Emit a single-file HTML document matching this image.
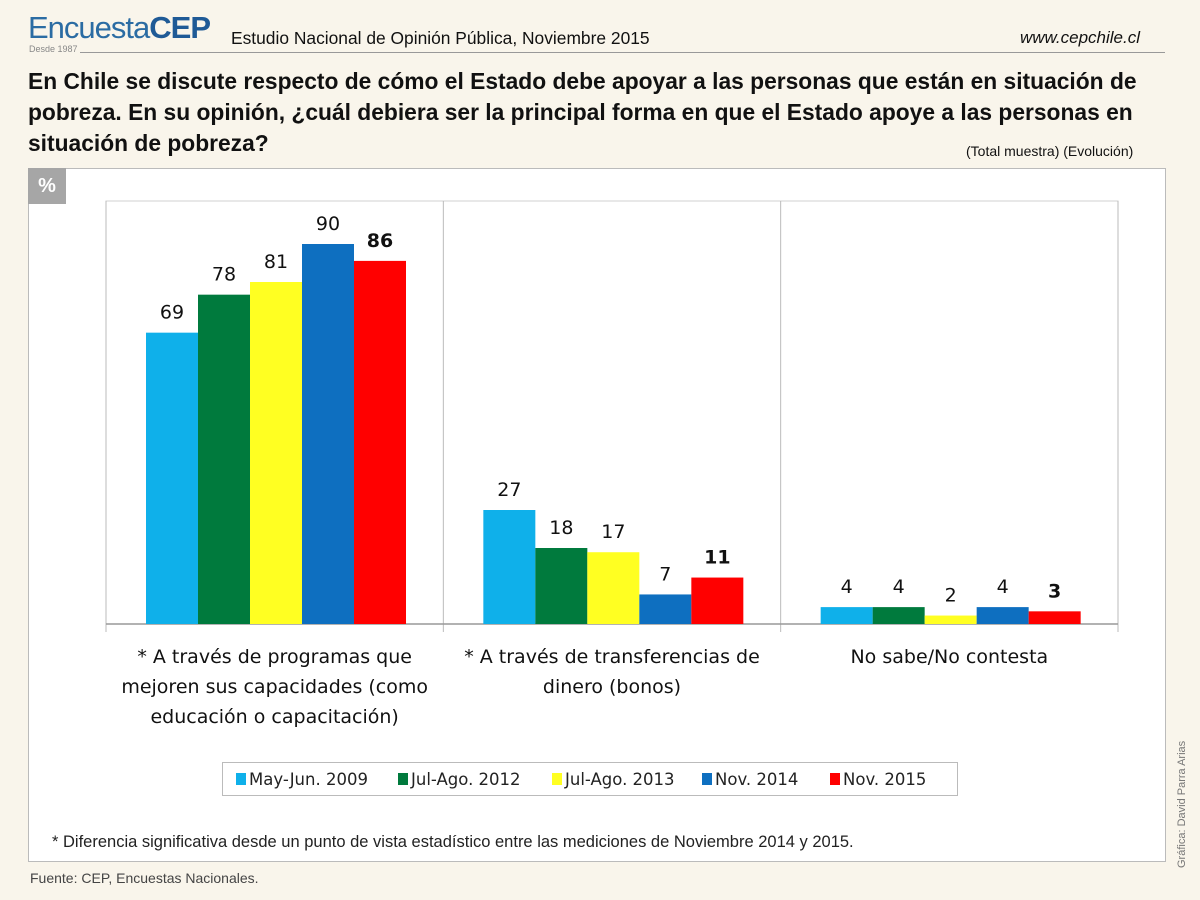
<!DOCTYPE html>
<html><head><meta charset="utf-8"><style>
body{margin:0;width:1200px;height:900px;background:#f9f5eb;position:relative;overflow:hidden;font-family:"Liberation Sans",sans-serif;}
.a{position:absolute;}
</style></head><body>
<div class="a" style="left:28px;top:10px;font-size:31px;color:#2b6ca3;letter-spacing:-1px;">Encuesta<b style="color:#1f5a96">CEP</b></div>
<div class="a" style="left:29px;top:44px;font-size:9px;color:#888;">Desde 1987</div>
<div class="a" style="left:80px;top:52px;width:1085px;height:1px;background:#999;"></div>
<div class="a" style="left:231px;top:28px;font-size:17.4px;color:#111;">Estudio Nacional de Opinión Pública, Noviembre 2015</div>
<div class="a" style="left:1020px;top:28px;font-size:17px;font-style:italic;color:#111;">www.cepchile.cl</div>
<div class="a" style="left:28px;top:66px;width:1150px;font-size:22.8px;font-weight:bold;line-height:31px;color:#111;">En Chile se discute respecto de cómo el Estado debe apoyar a las personas que están en situación de pobreza. En su opinión, ¿cuál debiera ser la principal forma en que el Estado apoye a las personas en situación de pobreza?</div>
<div class="a" style="left:966px;top:143px;font-size:14px;color:#111;">(Total muestra) (Evolución)</div>
<div class="a" style="left:28px;top:168px;width:1138px;height:694px;background:#fff;border:1px solid #bbb;box-sizing:border-box;"></div>
<div class="a" style="left:28px;top:168px;width:38px;height:36px;background:#a6a6a6;color:#fff;font-weight:bold;font-size:20px;text-align:center;line-height:36px;">%</div>
<div class="a" style="left:222px;top:762px;width:736px;height:34px;border:1px solid #bbb;box-sizing:border-box;background:#fff;"></div>
<svg class="a" style="left:0;top:0" width="1200" height="900" id="chart"></svg>
<div class="a" style="left:52px;top:833px;font-size:16.5px;color:#222;">* Diferencia significativa desde un punto de vista estadístico entre las mediciones de Noviembre 2014 y 2015.</div>
<div class="a" style="left:30px;top:870px;font-size:14px;color:#444;">Fuente: CEP, Encuestas Nacionales.</div>
<div class="a" style="left:1112px;top:792px;width:140px;font-size:11px;color:#777;transform:rotate(-90deg);transform-origin:center;white-space:nowrap;">Gráfica: David Parra Arias</div>
<script>
const categories=[["* A través de programas que","mejoren sus capacidades (como","educación o capacitación)"],["* A través de transferencias de","dinero (bonos)"],["No sabe/No contesta"]];
const seriesNames=["May-Jun. 2009","Jul-Ago. 2012","Jul-Ago. 2013","Nov. 2014","Nov. 2015"];
const s2009=[69,27,4];
const s2012=[78,18,4];
const s2013=[81,17,2];
const s2014=[90,7,4];
const s2015=[86,11,3];
const series=[s2009,s2012,s2013,s2014,s2015];
const colors=["#0fb0ea","#007a3d","#ffff22","#0e6fc0","#ff0000"];
const NS="http://www.w3.org/2000/svg";
const svg=document.getElementById('chart');
const L=106,R=1118,T=201,B=624,maxV=90,topV=244;
const gw=(R-L)/categories.length, bw=52, pad=40;
function y(v){return B-(B-topV)*v/maxV;}
function x(g,s){return L+g*gw+pad+s*bw;}
function mk(t,a,p){const e=document.createElementNS(NS,t);for(const k in a)e.setAttribute(k,a[k]);(p||svg).appendChild(e);return e;}
let f=mk('rect',{x:L,y:T,width:R-L,height:B-T,fill:'none',stroke:'#d0d0d0'});


for(let g=0;g<=categories.length;g++){const gx=L+g*gw;let l=mk('line',{x1:gx,x2:gx,y1:T,y2:B+8,stroke:'#bbb'});

}
let ax=mk('line',{x1:L,x2:R,y1:B,y2:B,stroke:'#999','stroke-width':1.5});


categories.forEach((c,g)=>{
 series.forEach((ser,s)=>{
  const v=ser[g];
  let r=mk('rect',{x:x(g,s),y:y(v),width:bw,height:B-y(v),fill:colors[s]});
  
  
  let t=mk('text',{x:x(g,s)+bw/2,y:y(v)-14,'text-anchor':'middle','font-size':19,fill:'#111','font-family':'"DejaVu Sans","Liberation Sans",sans-serif','font-weight':s==4?'bold':'normal'});
  t.textContent=v;
  
  
 });
 c.forEach((ln,i)=>{
  let t=mk('text',{x:L+g*gw+gw/2,y:663+i*30,'text-anchor':'middle','font-size':19,fill:'#111','font-family':'"DejaVu Sans","Liberation Sans",sans-serif'});
  t.textContent=ln;
  
  
 });
});
const lx=[236,398,552,702,830];
seriesNames.forEach((n,s)=>{
 let r=mk('rect',{x:lx[s],y:773,width:10,height:12,fill:colors[s]});
 
 
 let t=mk('text',{x:lx[s]+13,y:785,'font-size':16.5,fill:'#222','font-family':'"DejaVu Sans","Liberation Sans",sans-serif'});
 t.textContent=n;
 
 
});
</script>
</body></html>
